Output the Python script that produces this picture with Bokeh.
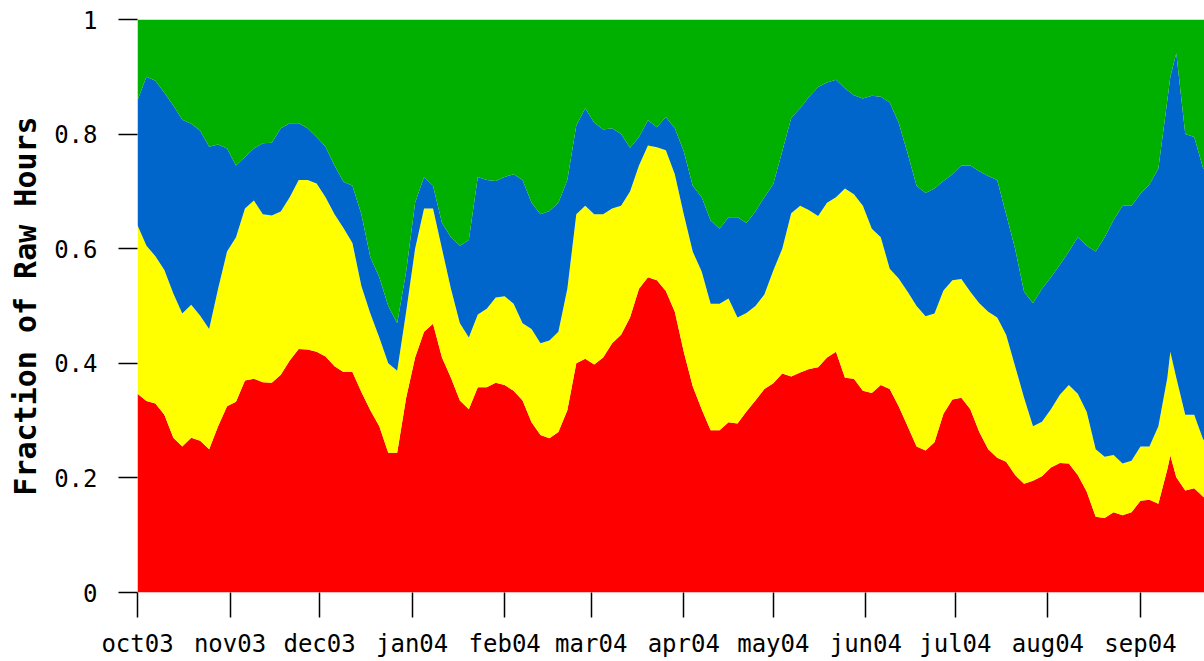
from datetime import date

from bokeh.embed import file_html
from bokeh.models import ColumnDataSource, FixedTicker, Range1d
from bokeh.plotting import figure
from bokeh.resources import INLINE

# Daily usage shares, sampled every few days from 1 Oct 2003
START = date(2003, 10, 1)

day = [
    0, 3, 6, 9, 12, 15, 18, 21, 24, 27,
    30, 33, 36, 39, 42, 45, 48, 51, 54, 57,
    60, 63, 66, 69, 72, 75, 78, 81, 84, 87,
    90, 93, 96, 99, 102, 105, 108, 111, 114, 117,
    120, 123, 126, 129, 132, 135, 138, 141, 144, 147,
    150, 153, 156, 159, 162, 165, 168, 171, 174, 177,
    180, 183, 186, 189, 192, 195, 198, 201, 204, 207,
    210, 213, 216, 219, 222, 225, 228, 231, 234, 237,
    240, 243, 246, 249, 252, 255, 258, 261, 264, 267,
    270, 273, 276, 279, 282, 285, 288, 291, 294, 297,
    300, 303, 306, 309, 312, 315, 318, 321, 324, 327,
    330, 333, 336, 339, 342, 345,
    346, 348, 351, 354, 357, 358,
]

red = [
    .347, .334, .330, .310, .270, .255, .270, .265, .250, .290,
    .325, .333, .370, .373, .367, .366, .380, .405, .425, .424,
    .420, .412, .395, .385, .385, .350, .318, .290, .244, .244,
    .340, .410, .455, .469, .410, .375, .335, .320, .358, .358,
    .366, .362, .352, .335, .297, .275, .269, .280, .318, .400,
    .408, .398, .410, .435, .450, .480, .530, .550, .545, .526,
    .490, .420, .360, .320, .283, .283, .297, .295, .316, .335,
    .355, .365, .382, .377, .384, .390, .393, .410, .420, .375,
    .373, .352, .348, .362, .355, .325, .290, .255, .248, .262,
    .312, .337, .340, .320, .280, .250, .235, .228, .205, .190,
    .195, .203, .218, .226, .225, .205, .176, .132, .130, .140,
    .135, .140, .160, .162, .155, .215,
    .239, .201, .178, .182, .167, .165,
]

yellow = [
    .294, .271, .257, .253, .252, .232, .232, .218, .210, .240,
    .270, .287, .300, .311, .293, .292, .285, .285, .295, .296,
    .294, .278, .265, .251, .225, .185, .169, .155, .156, .143,
    .150, .190, .215, .201, .190, .155, .135, .125, .127, .137,
    .149, .155, .152, .135, .163, .160, .171, .175, .212, .260,
    .267, .262, .250, .235, .225, .220, .215, .230, .232, .246,
    .240, .240, .235, .240, .221, .221, .216, .185, .172, .165,
    .165, .197, .218, .285, .291, .277, .264, .270, .270, .330,
    .322, .323, .287, .258, .210, .223, .235, .245, .234, .225,
    .215, .208, .207, .205, .225, .240, .245, .222, .190, .150,
    .095, .095, .102, .119, .137, .142, .139, .118, .107, .100,
    .090, .090, .095, .093, .135, .160,
    .181, .174, .132, .128, .100, .100,
]

blue = [
    .218, .295, .306, .309, .328, .338, .316, .323, .318, .252,
    .180, .125, .090, .091, .124, .127, .145, .129, .099, .090,
    .081, .088, .085, .081, .100, .125, .098, .105, .100, .083,
    .070, .080, .055, .040, .045, .090, .135, .170, .240, .225,
    .203, .208, .226, .250, .220, .225, .226, .225, .190, .155,
    .170, .160, .148, .140, .125, .076, .050, .044, .035, .058,
    .080, .110, .115, .130, .145, .131, .142, .175, .157, .165,
    .170, .151, .170, .166, .170, .198, .225, .210, .205, .175,
    .173, .187, .232, .245, .290, .272, .241, .210, .215, .218,
    .191, .185, .198, .220, .230, .237, .240, .210, .205, .185,
    .215, .232, .230, .227, .233, .273, .290, .345, .383, .410,
    .450, .445, .441, .457, .450, .484,
    .480, .566, .490, .485, .473, .470,
]

green = [
    .141, .100, .107, .128, .150, .175, .182, .194, .222, .218,
    .225, .255, .240, .225, .216, .215, .190, .181, .181, .190,
    .205, .222, .255, .283, .290, .340, .415, .450, .500, .530,
    .440, .320, .275, .290, .355, .380, .395, .385, .275, .280,
    .282, .275, .270, .280, .320, .340, .334, .320, .280, .185,
    .155, .180, .192, .190, .200, .224, .205, .176, .188, .170,
    .190, .230, .290, .310, .351, .365, .345, .345, .355, .335,
    .310, .287, .230, .172, .155, .135, .118, .110, .105, .120,
    .132, .138, .133, .135, .145, .180, .234, .290, .303, .295,
    .282, .270, .255, .255, .265, .273, .280, .340, .400, .475,
    .495, .470, .450, .428, .405, .380, .395, .405, .380, .350,
    .325, .325, .304, .288, .260, .141,
    .100, .059, .200, .205, .260, .265,
]

month_starts = [
    (2003, 10), (2003, 11), (2003, 12), (2004, 1), (2004, 2), (2004, 3),
    (2004, 4), (2004, 5), (2004, 6), (2004, 7), (2004, 8), (2004, 9),
]
month_labels = [
    "oct03", "nov03", "dec03", "jan04", "feb04", "mar04",
    "apr04", "may04", "jun04", "jul04", "aug04", "sep04",
]

y_ticks = [0, 0.2, 0.4, 0.6, 0.8, 1]
y_labels = ["0", "0.2", "0.4", "0.6", "0.8", "1"]

series = ["red", "yellow", "blue", "green"]
colors = ["#ff0000", "#ffff00", "#0066cc", "#00b000"]

source = ColumnDataSource(dict(day=day, red=red, yellow=yellow, blue=blue, green=green))

month_ticks = [(date(y, m, 1) - START).days for y, m in month_starts]

FONT = "DejaVu Sans Mono"

p = figure(
    width=1204,
    height=661,
    output_backend="svg",
    toolbar_location=None,
    x_range=Range1d(0, 357.45),
    y_range=Range1d(0, 1),
    min_border_left=137,
    min_border_right=0,
    min_border_top=19,
    min_border_bottom=69,
)

p.varea_stack(stackers=series, x="day", color=colors, source=source)

p.outline_line_color = None
p.background_fill_color = "white"
p.border_fill_color = "white"
p.xgrid.grid_line_color = None
p.ygrid.grid_line_color = None

xa = p.xaxis[0]
xa.ticker = FixedTicker(ticks=month_ticks)
xa.major_label_overrides = dict(zip(month_ticks, month_labels))
xa.axis_line_color = None
xa.major_tick_in = 0
xa.major_tick_out = 25
xa.major_tick_line_color = "black"
xa.major_tick_line_width = 1.5
xa.minor_tick_line_color = None
xa.major_label_standoff = 12
xa.major_label_text_font = FONT
xa.major_label_text_font_size = "24px"
xa.major_label_text_color = "black"

ya = p.yaxis[0]
ya.ticker = FixedTicker(ticks=y_ticks)
ya.major_label_overrides = dict(zip(y_ticks, y_labels))
ya.axis_line_color = None
ya.major_tick_in = 0
ya.major_tick_out = 19
ya.major_tick_line_color = "black"
ya.major_tick_line_width = 1.5
ya.minor_tick_line_color = None
ya.major_label_standoff = 21
ya.major_label_text_font = FONT
ya.major_label_text_font_size = "24px"
ya.major_label_text_color = "black"
ya.axis_label = "Fraction of Raw Hours"
ya.axis_label_text_font = FONT
ya.axis_label_text_font_style = "bold"
ya.axis_label_text_font_size = "30px"
ya.axis_label_text_color = "black"
ya.axis_label_standoff = 8

open("out.html", "w").write(file_html(p, INLINE))
